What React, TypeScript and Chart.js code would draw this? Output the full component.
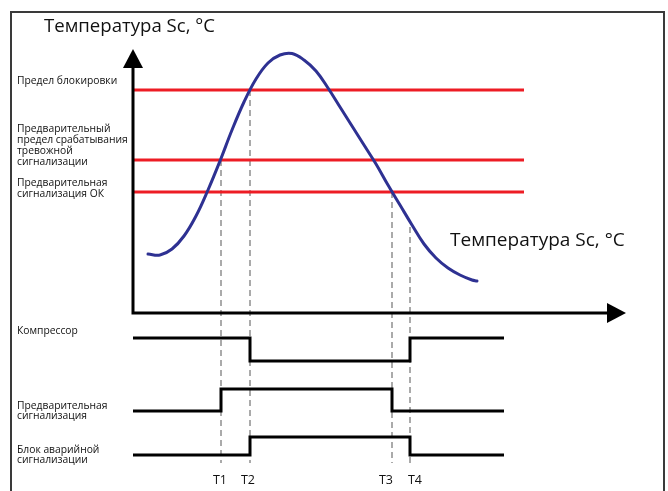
import React, { useEffect, useRef } from "react";
import { Chart, registerables } from "chart.js";

Chart.register(...registerables);

// ---- Data (time units on x, temperature units on y) ----
const timeMarkLabels = ["T1", "T2", "T3", "T4"];
const timeMarks = [17.6, 23.4, 51.8, 55.4];
const markTopTemps = [61.2, 89.2, 48.4, 34.4];
const markBottomTemp = -60;

const thresholdLabels = [
  ["Предел блокировки"],
  ["Предварительный", "предел срабатывания", "тревожной", "сигнализации"],
  ["Предварительная", "сигнализация ОК"],
];
const thresholdTemps = [89.2, 61.2, 48.4];
const thresholdEnd = 78.2;

const curveTime = [3.0, 5.4, 7.8, 10.2, 12.6, 15.0, 17.4, 19.8, 22.2, 24.6, 27.0, 29.4, 31.8, 34.2, 36.6, 39.0, 41.4, 43.8, 46.2, 48.6, 51.0, 53.4, 55.8, 58.2, 60.6, 63.0, 65.4, 67.8, 68.8];
const curveTemp = [23.6, 23.2, 25.6, 30.8, 38.8, 49.2, 60.8, 73.2, 84.4, 93.6, 100.0, 103.2, 103.8, 101.2, 96.8, 90.0, 82.4, 74.8, 67.2, 59.6, 51.2, 43.2, 35.2, 27.6, 22.0, 18.0, 15.2, 13.2, 12.8];

const signalLabels = [
  ["Компрессор"],
  ["Предварительная", "сигнализация"],
  ["Блок аварийной", "сигнализации"],
];
const compressorTimes = [0, 23.4, 55.4, 74.2];
const compressorStates = [1, 0, 1, 1];
const preAlarmTimes = [0, 17.6, 51.8, 74.2];
const preAlarmStates = [0, 1, 0, 0];
const alarmBlockTimes = [0, 23.4, 55.4, 74.2];
const alarmBlockStates = [0, 1, 0, 0];
const signalBase = [13.0, 8.0, 3.6];
const signalAmp = [2.3, 2.2, 1.8];

const axisTitle = "Температура Sc, °C";
const timeAxisEnd = 95;
const timeAxisTip = 98.6;
const tempAxisEnd = 98.8;
const tempAxisTip = 105.6;

const W = 668;
const H = 491;
const FONT = "'Open Sans', 'Noto Sans', sans-serif";

function signalData(times: number[], states: number[], lane: number) {
  return times.map((t, i) => ({ x: t, y: signalBase[lane] + states[i] * signalAmp[lane] }));
}

const decorPlugin = {
  id: "decor",
  beforeDraw(chart: any) {
    const ctx = chart.ctx;
    ctx.save();
    ctx.strokeStyle = "#3a3a3a";
    ctx.lineWidth = 2;
    ctx.strokeRect(11, 12, 653, 500);
    ctx.restore();
  },
  afterDraw(chart: any) {
    const ctx = chart.ctx;
    const xs = chart.scales.x;
    const yt = chart.scales.yTemp;
    ctx.save();
    // arrowheads
    ctx.fillStyle = "#000";
    const x0 = xs.getPixelForValue(0);
    const y0 = yt.getPixelForValue(0);
    const yTip = yt.getPixelForValue(tempAxisTip);
    ctx.beginPath();
    ctx.moveTo(x0, yTip);
    ctx.lineTo(x0 - 10, yTip + 19);
    ctx.lineTo(x0 + 10, yTip + 19);
    ctx.closePath();
    ctx.fill();
    const xTip = xs.getPixelForValue(timeAxisTip);
    ctx.beginPath();
    ctx.moveTo(xTip, y0);
    ctx.lineTo(xTip - 19, y0 - 10);
    ctx.lineTo(xTip - 19, y0 + 10);
    ctx.closePath();
    ctx.fill();

    ctx.fillStyle = "#111";
    ctx.textBaseline = "middle";
    ctx.textAlign = "left";
    ctx.font = `18.6px ${FONT}`;
    ctx.fillText(axisTitle, 44, 27);
    ctx.font = `19px ${FONT}`;
    ctx.fillText(axisTitle, 450, 241);

    ctx.font = `10.3px ${FONT}`;
    const thrY = [[81], [129, 140, 151, 162], [183, 194]];
    thresholdLabels.forEach((lines, i) => lines.forEach((l, j) => ctx.fillText(l, 17, thrY[i][j])));
    const sigY = [[331], [406, 416], [450, 460]];
    signalLabels.forEach((lines, i) => lines.forEach((l, j) => ctx.fillText(l, 17, sigY[i][j])));

    ctx.font = `12.5px ${FONT}`;
    ctx.textAlign = "center";
    const offs = [-1, -2, -6, 5];
    timeMarkLabels.forEach((l, i) => ctx.fillText(l, xs.getPixelForValue(timeMarks[i]) + offs[i], 480));
    ctx.restore();
  },
};

export default function App() {
  const ref = useRef<HTMLCanvasElement | null>(null);
  useEffect(() => {
    document.body.style.margin = "0";
    const canvas = ref.current!;
    const datasets: any[] = [];
    const base = { pointRadius: 0, fill: false, tension: 0, borderCapStyle: "butt", borderJoinStyle: "miter", order: 0 };

    // dashed time markers (drawn underneath)
    timeMarks.forEach((t, i) => {
      datasets.push({
        ...base,
        order: 10,
        yAxisID: "yTemp",
        data: [{ x: t, y: markTopTemps[i] }, { x: t, y: markBottomTemp }],
        borderColor: "#8f8f8f",
        borderWidth: 1.5,
        borderDash: [6, 4],
      });
    });
    // thresholds
    thresholdTemps.forEach((v) => {
      datasets.push({
        ...base,
        order: 5,
        yAxisID: "yTemp",
        data: [{ x: 0, y: v }, { x: thresholdEnd, y: v }],
        borderColor: "#ed1c24",
        borderWidth: 3,
      });
    });
    // curve
    datasets.push({
      ...base,
      order: 1,
      yAxisID: "yTemp",
      data: curveTime.map((t, i) => ({ x: t, y: curveTemp[i] })),
      borderColor: "#2e3192",
      borderWidth: 3,
      tension: 0.4,
      borderCapStyle: "round",
      borderJoinStyle: "round",
    });
    // axes
    datasets.push({
      ...base,
      yAxisID: "yTemp",
      data: [{ x: 0, y: tempAxisEnd }, { x: 0, y: 0 }, { x: timeAxisEnd, y: 0 }],
      borderColor: "#000",
      borderWidth: 3,
    });
    // signals
    [
      [compressorTimes, compressorStates],
      [preAlarmTimes, preAlarmStates],
      [alarmBlockTimes, alarmBlockStates],
    ].forEach(([times, states], lane) => {
      datasets.push({
        ...base,
        yAxisID: "ySig",
        data: signalData(times, states, lane),
        borderColor: "#000",
        borderWidth: 3,
        stepped: "before",
      });
    });

    const chart = new Chart(canvas, {
      type: "line",
      data: { datasets },
      options: {
        responsive: false,
        animation: false,
        devicePixelRatio: 1,
        layout: { padding: 0 },
        plugins: { legend: { display: false }, tooltip: { enabled: false } },
        events: [],
        scales: {
          x: { type: "linear", min: -26.6, max: 107, display: false },
          yTemp: { type: "linear", min: -71.2, max: 125.2, display: false },
          ySig: { type: "linear", min: 0, max: 49.1, display: false },
        },
      } as any,
      plugins: [decorPlugin],
    });
    return () => chart.destroy();
  }, []);
  return (
    <div style={{ position: "fixed", left: 0, top: 0, width: W, height: H, background: "#fff" }}>
      <canvas ref={ref} width={W} height={H} style={{ width: W, height: H, display: "block" }} />
    </div>
  );
}
